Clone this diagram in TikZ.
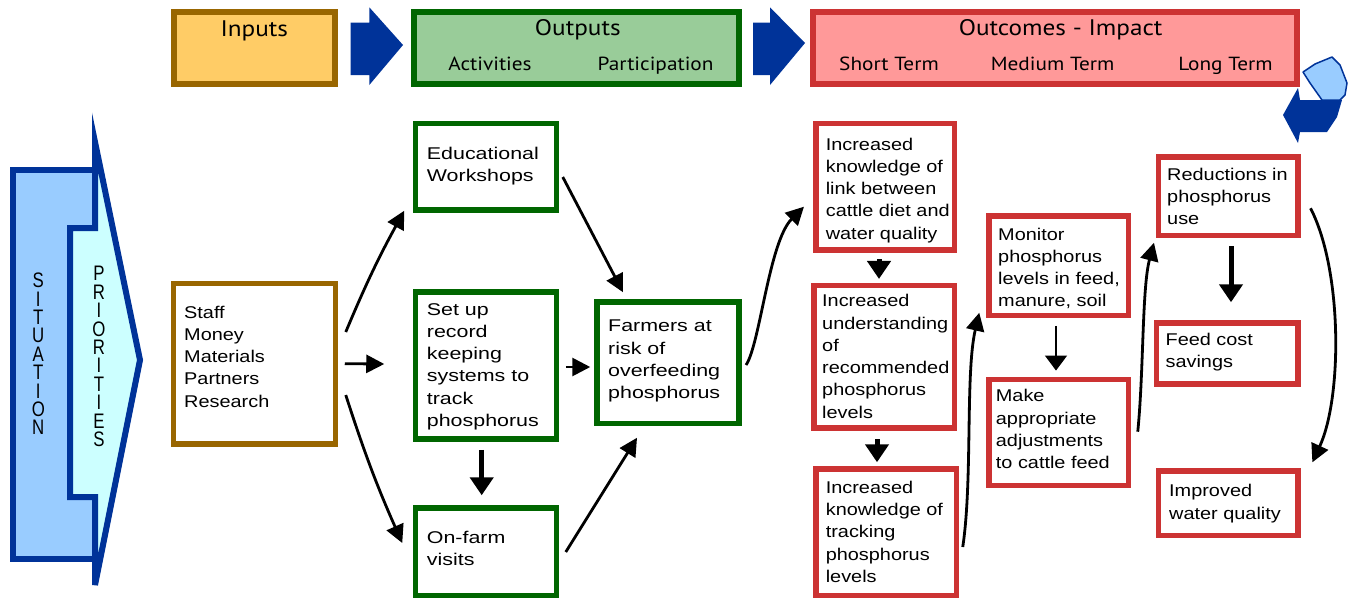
\documentclass[tikz,border=0pt]{standalone}
\usepackage{fontspec}
\usetikzlibrary{arrows.meta,calc}
\newfontfamily\bodyf{Liberation Sans}[FakeStretch=1.17]
\newfontfamily\bodyw{Liberation Sans}[FakeStretch=1.26]
\newfontfamily\headf{PT Sans}[FakeStretch=1.12]
\newfontfamily\sitf{Liberation Sans}[FakeStretch=0.8]
\definecolor{cblue}{HTML}{003399}
\definecolor{csit}{HTML}{99CCFF}
\definecolor{cpri}{HTML}{CCFFFF}
\definecolor{cinf}{HTML}{FFCC66}
\definecolor{cbrown}{HTML}{996600}
\definecolor{coutf}{HTML}{99CC99}
\definecolor{cgreen}{HTML}{006600}
\definecolor{cocf}{HTML}{FF9999}
\definecolor{cred}{HTML}{CC3333}
\begin{document}
\begin{tikzpicture}[x=1pt,y=-1pt,
  hdr/.style={draw, line width=6, inner sep=0},
  htitle/.style={font=\headf\fontsize{22.5}{26}\selectfont, anchor=base, inner sep=0},
  hsub/.style={font=\headf\fontsize{19}{22}\selectfont, anchor=base, inner sep=0},
  obox/.style={draw, line width=5.5, inner sep=0, fill=white},
  gbox/.style={obox, draw=cgreen},
  rbox/.style={obox, draw=cred},
  bbox/.style={obox, draw=cbrown},
  btext/.style={font=\bodyf\fontsize{17}{22.3}\selectfont, align=left, inner sep=0, anchor=base west},
  wtext/.style={font=\bodyw\fontsize{17}{22.3}\selectfont, align=left, inner sep=0, anchor=base west},
  vtext/.style={font=\sitf\fontsize{21}{18.4}\selectfont, align=center, inner sep=0},
  arr/.style={line width=2.8, -{Triangle[length=18,width=18]}},
  tarr/.style={line width=5, -{Triangle[length=18,width=23]}},
  larr/.style={line width=1.5, -{Triangle[length=15,width=22]}}
]
\useasboundingbox (0,0) rectangle (1348,600);
\fill[white] (0,0) rectangle (1348,600);

% ---------- header row ----------
\node[hdr, fill=cinf, draw=cbrown, minimum width=161.3, minimum height=71.7] (inputs) at (254.35,48.15) {};
\node[htitle] (inputs-t) at (254.35,36) {Inputs};
\node[hdr, fill=coutf, draw=cgreen, minimum width=325, minimum height=71.7] (outputs) at (576.2,48.15) {};
\node[htitle] (outputs-t) at (577.8,35) {Outputs};
\node[hsub] (act) at (490,70.7) {Activities};
\node[hsub] (part) at (655.6,70.7) {Participation};
\node[hdr, fill=cocf, draw=cred, minimum width=484, minimum height=71.4] (outcomes) at (1055,48) {};
\node[htitle] (outcomes-t) at (1060.6,35) {Outcomes - Impact};
\node[hsub] (st) at (889,70.7) {Short Term};
\node[hsub] (mt) at (1052.6,70.7) {Medium Term};
\node[hsub] (lt) at (1225.5,70.7) {Long Term};

% block arrows
\fill[cblue] (350.7,22.7) -- (369.3,22.7) -- (369.3,7.3) -- (403,45) -- (369.3,85) -- (369.3,75) -- (350.7,75) -- cycle;
\fill[cblue] (753,22.7) -- (770,22.7) -- (770,7.3) -- (805,43) -- (770,85) -- (770,75) -- (753,75) -- cycle;
% turn arrow
\filldraw[fill=csit, draw=cblue, line width=1.5, line join=round]
  (1303,72) -- (1315,64) -- (1332,57) -- (1340,65) -- (1347,83) -- (1345,95) -- (1340,100) -- (1322,100) -- (1310,83) -- cycle;
\fill[cblue] (1298,88) -- (1300,100) -- (1342,100) -- (1337,117) -- (1327,132) -- (1300,132) -- (1298,143) -- (1283,115) -- cycle;

% ---------- situation / priorities ----------
\filldraw[fill=csit, draw=cblue, line width=6] (13,170) rectangle (95,559);
\filldraw[fill=cpri, draw=cblue, line width=6, line join=miter]
  (95,142) -- (140,360) -- (95,585) -- (95,497) -- (70,497) -- (70,228) -- (95,228) -- cycle;
\node[vtext] (sit) at (38.3,354) {S\\I\\T\\U\\A\\T\\I\\O\\N};
\node[vtext] (pri) at (99,356.5) {P\\R\\I\\O\\R\\I\\T\\I\\E\\S};

% ---------- inputs / outputs ----------
\node[bbox, minimum width=161.8, minimum height=160.5] (staff) at (254.35,363.7) {};
\node[btext] (staff-t) at (184,407.2) {Staff\\Money\\Materials\\Partners\\Research};
\node[gbox, minimum width=141.1, minimum height=86.5] (edu) at (486,166.7) {};
\node[wtext] (edu-t) at (426.7,181.6) {Educational\\Workshops};
\node[gbox, minimum width=141.1, minimum height=147.2] (setup) at (486,365.35) {};
\node[wtext] (setup-t) at (426.7,426.5) {Set up\\record\\keeping\\systems to\\track\\phosphorus};
\node[gbox, minimum width=141.1, minimum height=87.5] (onfarm) at (486,551.5) {};
\node[wtext] (onfarm-t) at (426.7,565.3) {On-farm\\visits};
\node[gbox, minimum width=142.2, minimum height=121.5] (farmers) at (667.85,362.5) {};
\node[wtext] (farmers-t) at (608,398.6) {Farmers at\\risk of\\overfeeding\\phosphorus};

% ---------- outcomes ----------
\node[rbox, minimum width=138.5, minimum height=126.5] (A) at (885,186.7) {};
\node[btext] (A-t) at (825.6,239.2) {Increased\\knowledge of\\link between\\cattle diet and\\water quality};
\node[rbox, minimum width=140.5, minimum height=142.5] (B) at (884,356.7) {};
\node[btext] (B-t) at (822,418.2) {Increased\\understanding\\of\\recommended\\phosphorus\\levels};
\node[rbox, minimum width=140.5, minimum height=126.5] (C) at (886,532) {};
\node[btext] (C-t) at (825.6,582.5) {Increased\\knowledge of\\tracking\\phosphorus\\levels};
\node[rbox, minimum width=139.1, minimum height=99.5] (D) at (1058.7,265.8) {};
\node[btext] (D-t) at (998,306.9) {Monitor\\phosphorus\\levels in feed,\\manure, soil};
\node[rbox, minimum width=139.1, minimum height=106.1] (E) at (1058.7,432.5) {};
\node[btext] (E-t) at (995.7,468.6) {Make\\appropriate\\adjustments\\to cattle feed};
\node[rbox, minimum width=139.7, minimum height=78.8] (F) at (1228.1,196.15) {};
\node[btext] (F-t) at (1167,224.6) {Reductions in\\phosphorus\\use};
\node[rbox, minimum width=141.5, minimum height=61.2] (G) at (1227.2,353.35) {};
\node[btext] (G-t) at (1165.4,367.3) {Feed cost\\savings};
\node[rbox, minimum width=139.7, minimum height=64.5] (H) at (1228.1,503.3) {};
\node[btext] (H-t) at (1169,519) {Improved\\water quality};

% ---------- connectors ----------
\draw[arr] ($(staff.east)+(7.75,-31.7)$) to[bend left=3] ($(edu.south west)+(-8.45,-1.95)$);
\draw[arr] ($(staff.east)+(6.75,0)$) -- ($(setup.west)+(-28.45,-1.35)$);
\draw[arr] ($(staff.east)+(7.75,31.3)$) to[bend right=3] ($(onfarm.west)+(-10.45,-8.5)$);
\draw[arr] ($(edu.east)+(3.45,10.3)$) -- ($(farmers.north)+(-44.85,-6.75)$);
\draw[arr] ($(setup.east)+(6.45,1.65)$) -- ($(farmers.west)+(-3.75,4.5)$);
\draw[tarr] ($(setup.south)+(-4.3,8.05)$) -- ($(onfarm.north)+(-4.3,-9.75)$);
\draw[arr] ($(onfarm.east)+(6.45,0.5)$) -- ($(farmers.south)+(-30.85,11.75)$);
\draw[arr] ($(farmers.east)+(4.35,2.5)$) .. controls +(14,-21) and +(-35,35) .. ($(A.west)+(-9.05,20)$);
\draw[tarr] ($(A.south)+(-6,6.75)$) -- ($(B.north)+(-5,-3.75)$);
\draw[tarr] ($(B.south)+(-7,8.75)$) -- ($(C.north)+(-9,-3.75)$);
\draw[arr] ($(C.east)+(3.75,15)$) .. controls +(10,-67) and +(-14,60) .. ($(D.south west)+(-7.15,-5.55)$);
\draw[larr] ($(D.south)+(-2.7,7.45)$) -- ($(E.north)+(-2.7,-6.15)$);
\draw[arr] ($(E.east)+(6.75,-0.8)$) .. controls +(6,-60) and +(-12,45) .. ($(F.south west)+(-1.55,4.45)$);
\draw[tarr] ($(F.south)+(2.9,7.75)$) -- ($(G.north)+(3.8,-17.75)$);
\draw[arr] ($(F.east)+(9.85,12.15)$) .. controls +(32,62) and +(30,-65) .. ($(H.north east)+(11.65,-6)$);
\end{tikzpicture}
\end{document}
